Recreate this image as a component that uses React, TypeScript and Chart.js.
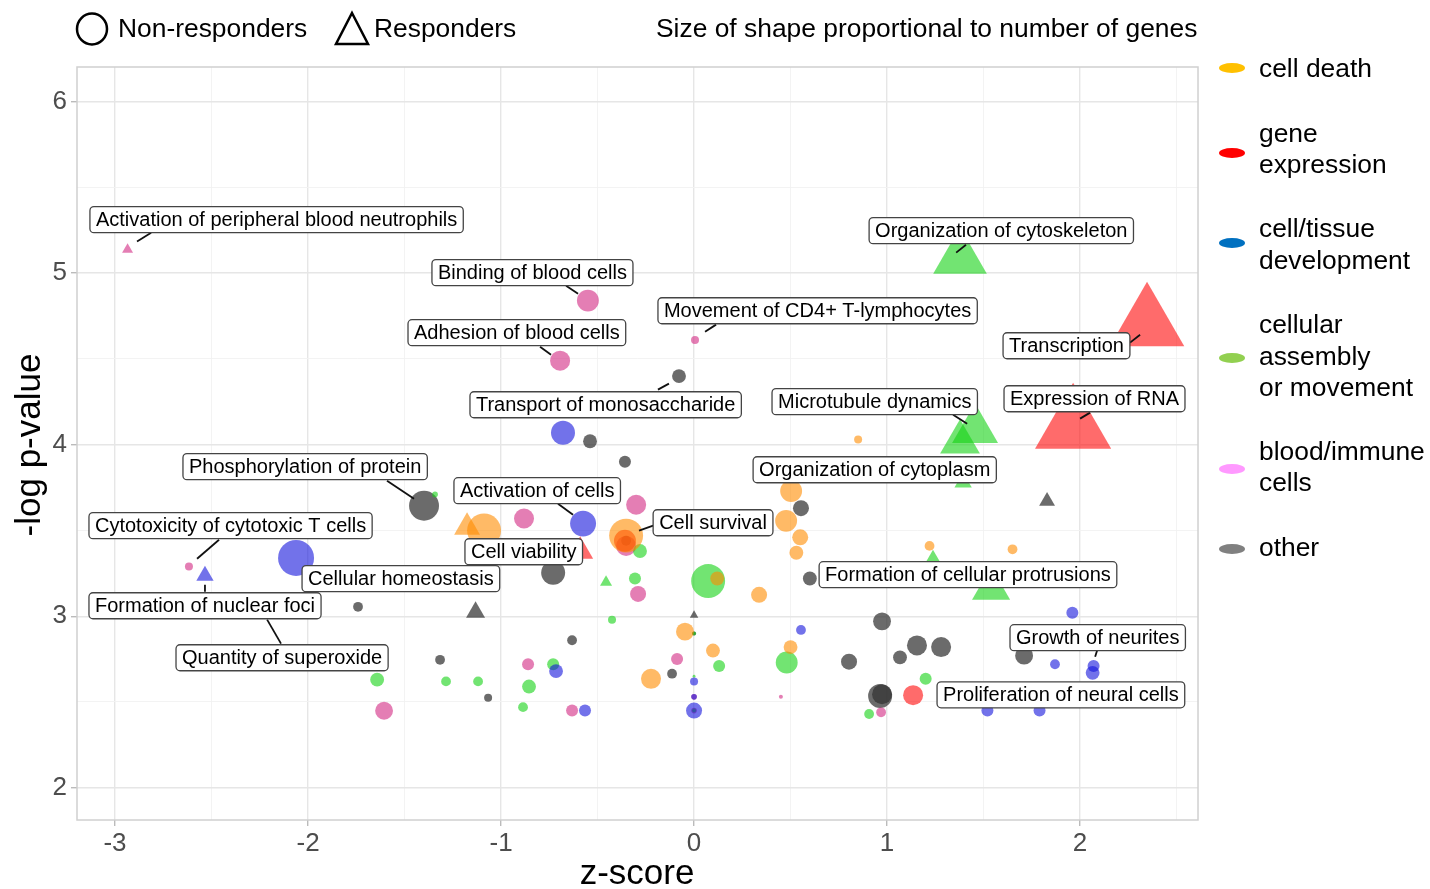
import React, { useEffect, useRef } from 'react';
import { Chart, registerables } from 'chart.js';

Chart.register(...registerables);

// [z-score, -log p-value, number of genes]
type P = [number, number, number];

const cellDeathNon: P[] = [
  [-1.088, 3.5, 72], [-0.352, 3.47, 72], [-0.047, 2.91, 20], [-0.223, 2.635, 25], [0.098, 2.8, 12],
  [0.12, 3.22, 12], [0.337, 3.125, 16], [0.5, 2.82, 12], [0.503, 3.73, 30], [0.477, 3.556, 30],
  [0.55, 3.46, 16], [0.53, 3.37, 12], [0.85, 4.03, 4], [1.22, 3.41, 6], [1.65, 3.39, 6],
];
const cellDeathResp: P[] = [[-1.176, 3.519, 56]];

const geneExprNon: P[] = [[-0.358, 3.44, 30], [1.135, 2.54, 25]];
const geneExprResp: P[] = [[2.347, 4.7, 462], [1.964, 4.105, 484], [-0.59, 3.379, 56]];

const cellTissueNon: P[] = [
  [-0.679, 4.07, 36], [-0.575, 3.54, 42], [-2.062, 3.34, 81], [-0.715, 2.68, 12], [-0.565, 2.45, 9],
  [0, 2.62, 4], [0, 2.53, 2], [0, 2.45, 16], [0.554, 2.92, 6], [1.96, 3.02, 9], [1.87, 2.72, 6],
  [2.07, 2.71, 9], [2.065, 2.67, 12], [1.52, 2.45, 9], [1.79, 2.45, 9],
];
const cellTissueResp: P[] = [[-2.534, 3.236, 25]];

const assemblyNon: P[] = [
  [-1.342, 3.71, 2], [-0.28, 3.38, 12], [-0.306, 3.22, 9], [-0.425, 2.98, 4], [-1.642, 2.63, 12],
  [-1.285, 2.62, 6], [-1.119, 2.62, 6], [-0.73, 2.72, 9], [-0.855, 2.59, 12], [-0.886, 2.47, 6],
  [0.073, 3.205, 72], [0.13, 2.71, 9], [0.48, 2.73, 30], [1.2, 2.635, 9], [0.907, 2.43, 6],
  [0, 2.9, 1], [0, 2.65, 0.5], [0, 2.45, 1],
];
const assemblyResp: P[] = [
  [1.378, 5.087, 240], [1.456, 4.087, 176], [1.378, 4.015, 132], [1.394, 3.78, 25],
  [-0.456, 3.198, 12], [1.238, 3.318, 36], [1.539, 3.16, 121],
];

const bloodNon: P[] = [
  [-0.55, 4.84, 30], [-0.694, 4.49, 25], [0.005, 4.61, 4], [-0.881, 3.57, 25], [-0.3, 3.65, 25],
  [-0.352, 3.41, 25], [-0.29, 3.13, 16], [-2.617, 3.29, 4], [-1.606, 2.449, 20], [-0.86, 2.72, 9],
  [-0.632, 2.45, 9], [-0.088, 2.75, 9], [0.45, 2.53, 1], [0.969, 2.44, 6], [0, 2.45, 2], [0, 2.53, 2],
];
const bloodResp: P[] = [[-2.935, 5.137, 10]];

const otherNon: P[] = [
  [-0.078, 4.4, 12], [-0.539, 4.02, 12], [-0.358, 3.9, 9], [-1.399, 3.644, 56], [-0.73, 3.254, 36],
  [-1.741, 3.055, 6], [-1.316, 2.746, 6], [-1.067, 2.525, 4], [-0.632, 2.86, 6], [-0.114, 2.665, 6],
  [0.554, 3.63, 16], [0.6, 3.22, 12], [0.803, 2.735, 16], [0.974, 2.97, 20], [1.155, 2.83, 25],
  [1.28, 2.82, 25], [1.067, 2.76, 12], [0.964, 2.535, 36], [0.974, 2.545, 25], [1.71, 2.77, 20],
  [-0.352, 3.44, 6], [0, 2.9, 1],
];
const otherResp: P[] = [[-1.132, 3.023, 30], [0, 3.006, 6], [1.829, 3.671, 21]];

// annotation labels: text, left edge (z), centre (-log p)
type Lab = [string, number, number];
const pointLabels: Lab[] = [
  ['Activation of peripheral blood neutrophils', -3.13, 5.312],
  ['Binding of blood cells', -1.358, 5.003],
  ['Adhesion of blood cells', -1.482, 4.653],
  ['Movement of CD4+ T-lymphocytes', -0.187, 4.781],
  ['Transport of monosaccharide', -1.161, 4.233],
  ['Organization of cytoskeleton', 0.907, 5.248],
  ['Transcription', 1.601, 4.577],
  ['Microtubule dynamics', 0.404, 4.251],
  ['Expression of RNA', 1.606, 4.268],
  ['Organization of cytoplasm', 0.306, 3.854],
  ['Phosphorylation of protein', -2.648, 3.872],
  ['Activation of cells', -1.244, 3.732],
  ['Cell survival', -0.212, 3.545],
  ['Cytotoxicity of cytotoxic T cells', -3.135, 3.528],
  ['Cell viability', -1.187, 3.376],
  ['Cellular homeostasis', -2.031, 3.219],
  ['Formation of nuclear foci', -3.135, 3.061],
  ['Quantity of superoxide', -2.684, 2.758],
  ['Formation of cellular protrusions', 0.648, 3.242],
  ['Growth of neurites', 1.637, 2.875],
  ['Proliferation of neural cells', 1.259, 2.542],
];

// leader segments [z1, p1, z2, p2]
const leaderLines: [number, number, number, number][] = [
  [-2.886, 5.184, -2.813, 5.236],
  [-0.663, 4.927, -0.601, 4.88],
  [-0.798, 4.571, -0.741, 4.525],
  [0.057, 4.659, 0.114, 4.7],
  [-0.187, 4.321, -0.13, 4.356],
  [1.358, 5.12, 1.409, 5.166],
  [2.259, 4.595, 2.311, 4.641],
  [1.342, 4.175, 1.415, 4.122],
  [2.0, 4.152, 2.052, 4.187],
  [-1.591, 3.79, -1.451, 3.685],
  [-0.705, 3.656, -0.627, 3.592],
  [-0.285, 3.499, -0.212, 3.528],
  [-2.575, 3.335, -2.461, 3.446],
  [-2.534, 3.184, -2.534, 3.143],
  [-2.212, 2.98, -2.14, 2.84],
  [2.088, 2.799, 2.078, 2.764],
];

const categoryNames = ['cell death', 'gene expression', 'cell/tissue development', 'cellular assembly or movement', 'blood/immune cells', 'other'];
const legendLines: string[][] = [['cell death'], ['gene', 'expression'], ['cell/tissue', 'development'], ['cellular', 'assembly', 'or movement'], ['blood/immune', 'cells'], ['other']];
const legendColors = ['#FFC000', '#FF0000', '#0070C0', '#92D050', '#FF99FF', '#808080'];
const pointColors = ['rgba(255,140,0,0.6)', 'rgba(255,0,0,0.58)', 'rgba(20,20,220,0.6)', 'rgba(20,210,20,0.6)', 'rgba(210,40,130,0.6)', 'rgba(50,50,50,0.72)'];
const nonResp = [cellDeathNon, geneExprNon, cellTissueNon, assemblyNon, bloodNon, otherNon];
const resp = [cellDeathResp, geneExprResp, cellTissueResp, assemblyResp, bloodResp, otherResp];

const FONT = '"Liberation Sans", Arial, sans-serif';
const X_MIN = -3.197, X_MAX = 2.611, Y_MIN = 1.812, Y_MAX = 6.202;

const toPts = (arr: P[]) => arr.map(([x, y, n]) => ({ x, y, n }));
const radiusOf = (c: any) => {
  const raw = c.raw as { n: number } | undefined;
  return raw ? 2 * Math.sqrt(raw.n) : 3;
};

const overlay = {
  id: 'overlay',
  afterDatasetsDraw(chart: any) {
    const ctx: CanvasRenderingContext2D = chart.ctx;
    const xs = chart.scales.x, ys = chart.scales.y;
    const a = chart.chartArea;
    ctx.save();
    // panel border
    ctx.strokeStyle = '#d0d0d0';
    ctx.lineWidth = 1.5;
    ctx.strokeRect(a.left, a.top, a.right - a.left, a.bottom - a.top);
    // leader lines
    ctx.strokeStyle = '#111';
    ctx.lineWidth = 1.8;
    for (const [x1, y1, x2, y2] of leaderLines) {
      ctx.beginPath();
      ctx.moveTo(xs.getPixelForValue(x1), ys.getPixelForValue(y1));
      ctx.lineTo(xs.getPixelForValue(x2), ys.getPixelForValue(y2));
      ctx.stroke();
    }
    // label boxes
    ctx.font = `20px ${FONT}`;
    ctx.textBaseline = 'middle';
    ctx.textAlign = 'left';
    for (const [t, lx, ly] of pointLabels) {
      const px = xs.getPixelForValue(lx);
      const py = ys.getPixelForValue(ly);
      const w = ctx.measureText(t).width + 12;
      const h = 26;
      ctx.beginPath();
      (ctx as any).roundRect(px, py - h / 2, w, h, 4);
      ctx.fillStyle = '#fff';
      ctx.fill();
      ctx.strokeStyle = '#444';
      ctx.lineWidth = 1.3;
      ctx.stroke();
      ctx.fillStyle = '#000';
      ctx.fillText(t, px + 6, py + 1);
    }
    ctx.restore();
  },
  afterDraw(chart: any) {
    const ctx: CanvasRenderingContext2D = chart.ctx;
    ctx.save();
    // top legend
    ctx.strokeStyle = '#000';
    ctx.lineWidth = 2.5;
    ctx.beginPath();
    ctx.ellipse(92, 29, 15, 15.5, 0, 0, Math.PI * 2);
    ctx.stroke();
    ctx.beginPath();
    ctx.moveTo(352, 13);
    ctx.lineTo(368, 44);
    ctx.lineTo(336, 44);
    ctx.closePath();
    ctx.stroke();
    ctx.fillStyle = '#000';
    ctx.font = `26.4px ${FONT}`;
    ctx.textBaseline = 'middle';
    ctx.textAlign = 'left';
    ctx.fillText('Non-responders', 118, 30);
    ctx.fillText('Responders', 374, 30);
    ctx.fillText('Size of shape proportional to number of genes', 656, 30);
    // right legend
    const ellY = [68, 153, 243, 358, 469, 549];
    const textY = [[70], [135, 166], [230, 262], [326, 358, 389], [453, 484], [549]];
    legendLines.forEach((lines, i) => {
      ctx.fillStyle = legendColors[i];
      ctx.beginPath();
      ctx.ellipse(1232, ellY[i], 13, 5, 0, 0, Math.PI * 2);
      ctx.fill();
      ctx.fillStyle = '#000';
      lines.forEach((ln, j) => ctx.fillText(ln, 1259, textY[i][j]));
    });
    // axis titles
    ctx.font = `35px ${FONT}`;
    ctx.textAlign = 'center';
    ctx.fillText('z-score', 637, 874);
    ctx.translate(30, 445);
    ctx.rotate(-Math.PI / 2);
    ctx.fillText('-log p-value', 0, 0);
    ctx.restore();
  },
};

const isMajor = (v: number) => Math.abs(v - Math.round(v)) < 1e-6;

export default function App() {
  const ref = useRef<HTMLCanvasElement | null>(null);
  useEffect(() => {
    document.body.style.margin = '0';
    if (!ref.current) return;
    const datasets: any[] = [];
    categoryNames.forEach((name, i) => {
      datasets.push({
        label: name + ' (responders)',
        data: toPts(resp[i]),
        pointStyle: 'triangle',
        backgroundColor: pointColors[i],
        borderWidth: 0,
        pointRadius: radiusOf,
        pointHoverRadius: radiusOf,
      });
    });
    categoryNames.forEach((name, i) => {
      datasets.push({
        label: name,
        data: toPts(nonResp[i]),
        pointStyle: 'circle',
        backgroundColor: pointColors[i],
        borderWidth: 0,
        pointRadius: radiusOf,
        pointHoverRadius: radiusOf,
      });
    });
    const tickFont = { family: FONT, size: 26 };
    const chart = new Chart(ref.current, {
      type: 'scatter',
      data: { datasets },
      options: {
        responsive: false,
        animation: false,
        events: [],
        layout: { padding: { top: 67, right: 232, left: 0, bottom: 0 } },
        plugins: { legend: { display: false }, tooltip: { enabled: false } },
        scales: {
          x: {
            type: 'linear',
            min: X_MIN,
            max: X_MAX,
            border: { display: false },
            afterFit: (s: any) => { s.height = 69; },
            ticks: {
              stepSize: 0.5,
              includeBounds: false,
              autoSkip: false,
              maxRotation: 0,
              padding: 2,
              color: '#4d4d4d',
              font: tickFont,
              callback: (v: any) => (isMajor(Number(v)) ? String(Math.round(Number(v))) : ''),
            },
            grid: {
              color: (c: any) => (isMajor(c.tick?.value ?? 0) ? '#e6e6e6' : '#f2f2f2'),
              lineWidth: (c: any) => (isMajor(c.tick?.value ?? 0) ? 1.4 : 0.9),
              tickColor: (c: any) => (isMajor(c.tick?.value ?? 0) ? '#bbbbbb' : 'rgba(0,0,0,0)'),
              tickLength: 6,
            },
          },
          y: {
            type: 'linear',
            min: Y_MIN,
            max: Y_MAX,
            border: { display: false },
            afterFit: (s: any) => { s.width = 77; },
            ticks: {
              stepSize: 0.5,
              includeBounds: false,
              autoSkip: false,
              padding: 4,
              color: '#4d4d4d',
              font: tickFont,
              callback: (v: any) => (isMajor(Number(v)) ? String(Math.round(Number(v))) : ''),
            },
            grid: {
              color: (c: any) => (isMajor(c.tick?.value ?? 0) ? '#e6e6e6' : '#f2f2f2'),
              lineWidth: (c: any) => (isMajor(c.tick?.value ?? 0) ? 1.4 : 0.9),
              tickColor: (c: any) => (isMajor(c.tick?.value ?? 0) ? '#bbbbbb' : 'rgba(0,0,0,0)'),
              tickLength: 6,
            },
          },
        },
      },
      plugins: [overlay],
    } as any);
    return () => chart.destroy();
  }, []);
  return (
    <div style={{ width: 1430, height: 889, background: '#fff' }}>
      <canvas ref={ref} width={1430} height={889} style={{ display: 'block', width: 1430, height: 889 }} />
    </div>
  );
}
